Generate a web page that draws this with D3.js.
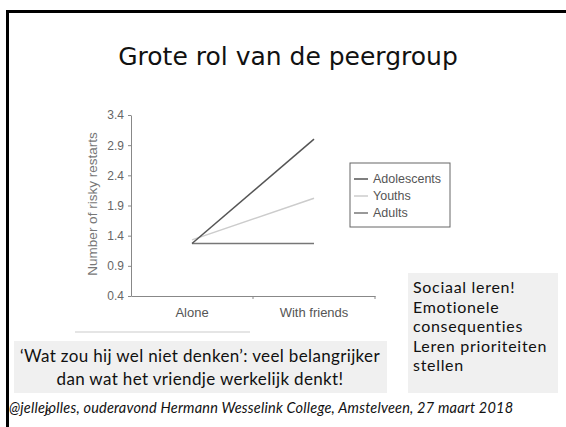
<!DOCTYPE html>
<html lang="nl">
<head>
<meta charset="UTF-8">
<title>Grote rol van de peergroup</title>
<script src="https://d3js.org/d3.v7.min.js"></script>
<style>
  body { margin: 0; background: #fff; }
</style>
</head>
<body>
<div id="chart"></div>
<script>
// data
const conditions = ["Alone", "With friends"];
const groups = ["Adolescents", "Youths", "Adults"];
const adolescents = [1.27, 3.0];
const youths = [1.33, 2.02];
const adults = [1.27, 1.27];
const yTicks = [0.4, 0.9, 1.4, 1.9, 2.4, 2.9, 3.4];
const sideNotes = ["Sociaal leren!", "Emotionele", "consequenties", "Leren prioriteiten", "stellen"];
const quote = ["\u2018Wat zou hij wel niet denken\u2019: veel belangrijker", "dan wat het vriendje werkelijk denkt!"];

const W = 566, H = 427;
const svg = d3.select("#chart").append("svg")
    .attr("width", W).attr("height", H);

// slide frame
svg.append("rect").attr("x", 6).attr("y", 10).attr("width", 3).attr("height", H - 10).attr("fill", "#000");
svg.append("rect").attr("x", 6).attr("y", 10).attr("width", W - 6).attr("height", 3).attr("fill", "#000");

svg.append("text")
    .attr("x", 288).attr("y", 65)
    .attr("text-anchor", "middle")
    .style("font-family", "DejaVu Sans")
    .style("font-size", "25px")
    .attr("fill", "#111")
    .text("Grote rol van de peergroup");

// chart
const x = d3.scaleBand().domain(conditions).range([131, 375]);
const y = d3.scaleLinear().domain([0.4, 3.4]).range([296, 115]);

const g = svg.append("g").style("font-family", "Liberation Sans");

const yAxis = g.append("g")
    .attr("transform", "translate(131,0)")
    .call(d3.axisLeft(y).tickValues(yTicks).tickFormat(d3.format(".1f")).tickSize(3).tickSizeOuter(0));
yAxis.selectAll("text").attr("fill", "#666").style("font-size", "12px").attr("x", -7);
yAxis.selectAll("line, path").attr("stroke", "#888");

const xAxis = g.append("g")
    .attr("transform", "translate(0,296)")
    .call(d3.axisBottom(x).tickSize(0).tickSizeOuter(0));
xAxis.selectAll("text").attr("fill", "#555").style("font-size", "13px").attr("y", 12);
xAxis.select(".domain").attr("stroke", "#888");
// ticks at the category boundaries
g.selectAll(".bound").data(conditions).join("line")
    .attr("x1", d => x(d) + x.bandwidth()).attr("x2", d => x(d) + x.bandwidth())
    .attr("y1", 296).attr("y2", 299).attr("stroke", "#888");

g.append("text")
    .attr("transform", "translate(97,204) rotate(-90)")
    .attr("text-anchor", "middle")
    .attr("fill", "#777")
    .style("font-size", "13.5px")
    .text("Number of risky restarts");

const series = [
  { name: groups[0], values: adolescents, color: "#555" },
  { name: groups[1], values: youths, color: "#ccc" },
  { name: groups[2], values: adults, color: "#777" }
];

const line = d3.line()
    .x((d, i) => x(conditions[i]) + x.bandwidth() / 2)
    .y(d => y(d));

g.selectAll(".series").data(series.slice().reverse()).join("path")
    .attr("fill", "none")
    .attr("stroke", d => d.color)
    .attr("stroke-width", 1.5)
    .attr("d", d => line(d.values));

// legend
const legend = g.append("g").attr("transform", "translate(350,163)");
legend.append("rect").attr("width", 100).attr("height", 64)
    .attr("fill", "#fff").attr("stroke", "#666").attr("stroke-width", 1);
const items = legend.selectAll(".item").data(series).join("g")
    .attr("transform", (d, i) => `translate(0,${16 + i * 17})`);
items.append("line").attr("x1", 4).attr("x2", 18)
    .attr("stroke", d => d.color).attr("stroke-width", 1.5);
items.append("text").attr("x", 23).attr("dy", "0.35em")
    .attr("fill", "#555").style("font-size", "12.5px")
    .text(d => d.name);

// faint separator under the chart
svg.append("line").attr("x1", 75).attr("x2", 250).attr("y1", 332).attr("y2", 332)
    .attr("stroke", "#ddd").attr("stroke-width", 1.5);

// text boxes
const bodyFont = "Lato";
svg.append("rect").attr("x", 14).attr("y", 341).attr("width", 373).attr("height", 52).attr("fill", "#f0f0f0");
svg.selectAll(".quote").data(quote).join("text")
    .attr("x", 200).attr("y", (d, i) => 362 + i * 23)
    .attr("text-anchor", "middle")
    .style("font-family", bodyFont).style("font-size", "17px")
    .style("letter-spacing", "0.35px")
    .attr("fill", "#111")
    .text(d => d);

svg.append("rect").attr("x", 408).attr("y", 273).attr("width", 150).attr("height", 120).attr("fill", "#f0f0f0");
svg.selectAll(".note").data(sideNotes).join("text")
    .attr("x", 413).attr("y", (d, i) => 293 + i * 19.5)
    .style("font-family", bodyFont).style("font-size", "16px")
    .style("letter-spacing", "0.7px")
    .attr("fill", "#111")
    .text(d => d);

// footer
svg.append("text")
    .attr("x", 9).attr("y", 413)
    .style("font-family", bodyFont).style("font-size", "14.5px").style("font-style", "italic")
    .style("letter-spacing", "0.2px")
    .attr("fill", "#111")
    .text("@jellejolles, ouderavond Hermann Wesselink College, Amstelveen, 27 maart 2018");
svg.append("text")
    .attr("x", 45).attr("y", 415)
    .style("font-family", bodyFont).style("font-size", "10px")
    .attr("fill", "#111")
    .text("6");
</script>
</body>
</html>
